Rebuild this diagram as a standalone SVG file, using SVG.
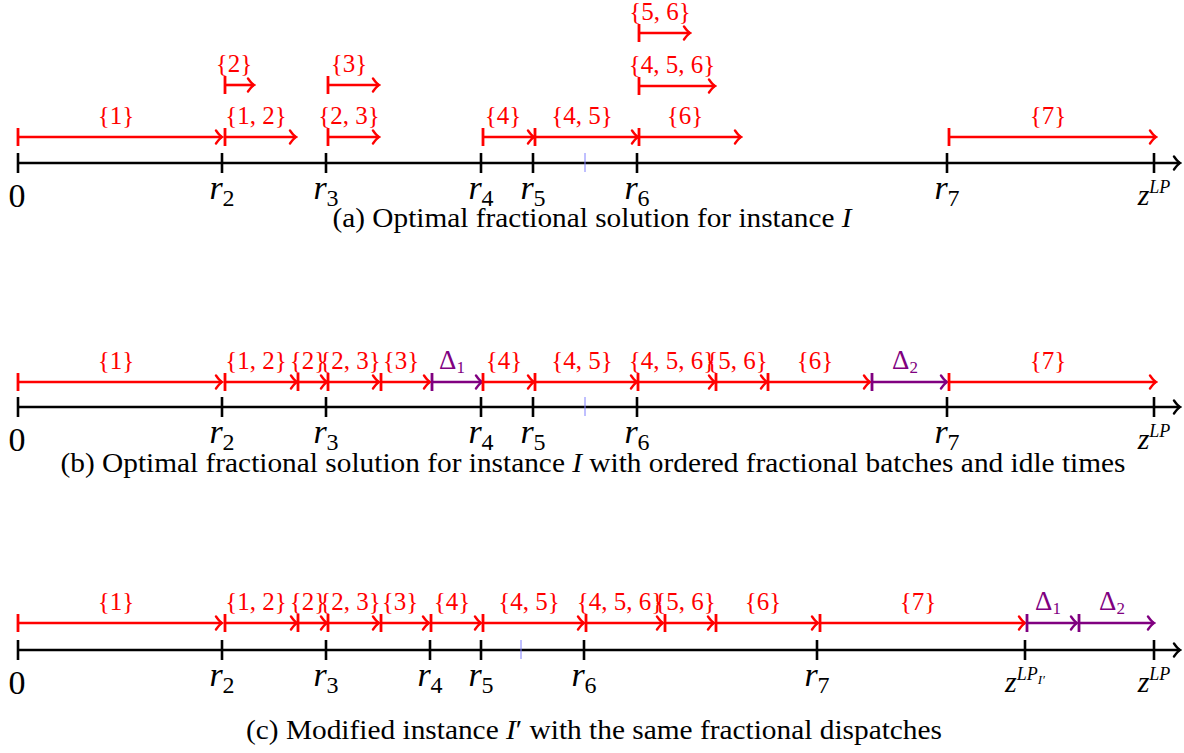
<svg xmlns="http://www.w3.org/2000/svg" width="1184" height="753" viewBox="0 0 1184 753">
<style>
text{font-family:"Liberation Serif","Times New Roman",serif;}
.r{stroke:#ff0000;stroke-width:2.6;fill:none;marker-start:url(#barR);marker-end:url(#arrR);}
.p{stroke:#800080;stroke-width:2.6;fill:none;marker-start:url(#barP);marker-end:url(#arrP);}
.ax{stroke:#000;stroke-width:2.6;fill:none;marker-end:url(#arrK);}
.tk{stroke:#000;stroke-width:2.6;}
.bt{stroke:#8080ff;stroke-width:1;}
.lr{fill:#ff0000;font-size:25px;text-anchor:middle;}
.lp{fill:#800080;font-size:27px;text-anchor:middle;}
.al{fill:#000;font-size:34px;text-anchor:middle;}
.zl{fill:#000;font-size:30px;text-anchor:middle;}
.it{font-style:italic;}
.cap{fill:#000;font-size:28px;text-anchor:middle;}
</style>
<defs>
<marker id="arrR" viewBox="-8 -8 10 16" markerWidth="10" markerHeight="16" refX="0" refY="0" orient="auto" markerUnits="userSpaceOnUse"><path d="M-6,-6.5 Q-2.5,-1.5 0,0 Q-2.5,1.5 -6,6.5" fill="none" stroke="#ff0000" stroke-width="2.4" stroke-linecap="round"/></marker>
<marker id="arrP" viewBox="-8 -8 10 16" markerWidth="10" markerHeight="16" refX="0" refY="0" orient="auto" markerUnits="userSpaceOnUse"><path d="M-6,-6.5 Q-2.5,-1.5 0,0 Q-2.5,1.5 -6,6.5" fill="none" stroke="#800080" stroke-width="2.4" stroke-linecap="round"/></marker>
<marker id="arrK" viewBox="-8 -8 10 16" markerWidth="10" markerHeight="16" refX="0" refY="0" orient="auto" markerUnits="userSpaceOnUse"><path d="M-6,-6.5 Q-2.5,-1.5 0,0 Q-2.5,1.5 -6,6.5" fill="none" stroke="#000" stroke-width="2.4" stroke-linecap="round"/></marker>
<marker id="barR" viewBox="-3 -10 6 20" markerWidth="6" markerHeight="20" refX="0" refY="0" orient="auto" markerUnits="userSpaceOnUse"><line x1="0" y1="-9" x2="0" y2="9" stroke="#ff0000" stroke-width="2.8"/></marker>
<marker id="barP" viewBox="-3 -10 6 20" markerWidth="6" markerHeight="20" refX="0" refY="0" orient="auto" markerUnits="userSpaceOnUse"><line x1="0" y1="-9" x2="0" y2="9" stroke="#800080" stroke-width="2.8"/></marker>
</defs>

<!-- Panel (a) -->
<g id="panel-a">
  <g id="a-axis">
    <line class="ax" x1="18" y1="163" x2="1180" y2="163"/>
    <line class="tk" x1="18" y1="153" x2="18" y2="173"/>
    <line class="tk" x1="222" y1="153" x2="222" y2="173"/>
    <line class="tk" x1="326" y1="153" x2="326" y2="173"/>
    <line class="tk" x1="481" y1="153" x2="481" y2="173"/>
    <line class="tk" x1="533" y1="153" x2="533" y2="173"/>
    <line class="bt" x1="585" y1="153" x2="585" y2="172"/>
    <line class="tk" x1="637" y1="153" x2="637" y2="173"/>
    <line class="tk" x1="947" y1="153" x2="947" y2="173"/>
    <line class="tk" x1="1154" y1="153" x2="1154" y2="173"/>
    <text class="al" x="17" y="207">0</text>
    <text class="al" x="222" y="199"><tspan class="it">r</tspan><tspan font-size="24" dy="7">2</tspan></text>
    <text class="al" x="326" y="199"><tspan class="it">r</tspan><tspan font-size="24" dy="7">3</tspan></text>
    <text class="al" x="481" y="199"><tspan class="it">r</tspan><tspan font-size="24" dy="7">4</tspan></text>
    <text class="al" x="533" y="199"><tspan class="it">r</tspan><tspan font-size="24" dy="7">5</tspan></text>
    <text class="al" x="637" y="199"><tspan class="it">r</tspan><tspan font-size="24" dy="7">6</tspan></text>
    <text class="al" x="947" y="199"><tspan class="it">r</tspan><tspan font-size="24" dy="7">7</tspan></text>
    <text class="zl" x="1154" y="205"><tspan class="it">z</tspan><tspan class="it" font-size="18" dy="-12">LP</tspan></text>
  </g>
  <g id="a-intervals">
    <g id="a-1"><line class="r" x1="18" y1="137" x2="222" y2="137"/><text class="lr" x="116" y="124">{1}</text></g>
    <g id="a-12"><line class="r" x1="225" y1="137" x2="296" y2="137"/><text class="lr" x="256" y="124">{1, 2}</text></g>
    <g id="a-2"><line class="r" x1="225" y1="85" x2="254" y2="85"/><text class="lr" x="234" y="72">{2}</text></g>
    <g id="a-23"><line class="r" x1="328" y1="137" x2="379" y2="137"/><text class="lr" x="349" y="124">{2, 3}</text></g>
    <g id="a-3"><line class="r" x1="328" y1="85" x2="379" y2="85"/><text class="lr" x="349" y="72">{3}</text></g>
    <g id="a-4"><line class="r" x1="483" y1="137" x2="534" y2="137"/><text class="lr" x="503" y="124">{4}</text></g>
    <g id="a-45"><line class="r" x1="535" y1="137" x2="638" y2="137"/><text class="lr" x="582" y="124">{4, 5}</text></g>
    <g id="a-6"><line class="r" x1="639" y1="137" x2="741" y2="137"/><text class="lr" x="685" y="124">{6}</text></g>
    <g id="a-456"><line class="r" x1="639" y1="86" x2="715" y2="86"/><text class="lr" x="672" y="73">{4, 5, 6}</text></g>
    <g id="a-56"><line class="r" x1="639" y1="33" x2="690" y2="33"/><text class="lr" x="660" y="20">{5, 6}</text></g>
    <g id="a-7"><line class="r" x1="949" y1="137" x2="1156" y2="137"/><text class="lr" x="1048" y="124">{7}</text></g>
  </g>
  <text class="cap" x="592" y="227" textLength="519" lengthAdjust="spacingAndGlyphs">(a) Optimal fractional solution for instance <tspan class="it">I</tspan></text>
</g>

<!-- Panel (b) -->
<g id="panel-b">
  <g id="b-axis">
    <line class="ax" x1="18" y1="407" x2="1180" y2="407"/>
    <line class="tk" x1="18" y1="397" x2="18" y2="417"/>
    <line class="tk" x1="222" y1="397" x2="222" y2="417"/>
    <line class="tk" x1="326" y1="397" x2="326" y2="417"/>
    <line class="tk" x1="481" y1="397" x2="481" y2="417"/>
    <line class="tk" x1="533" y1="397" x2="533" y2="417"/>
    <line class="bt" x1="585" y1="397" x2="585" y2="416"/>
    <line class="tk" x1="637" y1="397" x2="637" y2="417"/>
    <line class="tk" x1="947" y1="397" x2="947" y2="417"/>
    <line class="tk" x1="1154" y1="397" x2="1154" y2="417"/>
    <text class="al" x="17" y="451">0</text>
    <text class="al" x="222" y="443"><tspan class="it">r</tspan><tspan font-size="24" dy="7">2</tspan></text>
    <text class="al" x="326" y="443"><tspan class="it">r</tspan><tspan font-size="24" dy="7">3</tspan></text>
    <text class="al" x="481" y="443"><tspan class="it">r</tspan><tspan font-size="24" dy="7">4</tspan></text>
    <text class="al" x="533" y="443"><tspan class="it">r</tspan><tspan font-size="24" dy="7">5</tspan></text>
    <text class="al" x="637" y="443"><tspan class="it">r</tspan><tspan font-size="24" dy="7">6</tspan></text>
    <text class="al" x="947" y="443"><tspan class="it">r</tspan><tspan font-size="24" dy="7">7</tspan></text>
    <text class="zl" x="1154" y="449"><tspan class="it">z</tspan><tspan class="it" font-size="18" dy="-12">LP</tspan></text>
  </g>
  <g id="b-intervals">
    <g id="b-1"><line class="r" x1="18" y1="382" x2="222" y2="382"/><text class="lr" x="116" y="369">{1}</text></g>
    <g id="b-12"><line class="r" x1="225" y1="382" x2="297" y2="382"/><text class="lr" x="256" y="369">{1, 2}</text></g>
    <g id="b-2"><line class="r" x1="298" y1="382" x2="327" y2="382"/><text class="lr" x="308" y="369">{2}</text></g>
    <g id="b-23"><line class="r" x1="328" y1="382" x2="379" y2="382"/><text class="lr" x="350" y="369">{2, 3}</text></g>
    <g id="b-3"><line class="r" x1="381" y1="382" x2="430" y2="382"/><text class="lr" x="401" y="369">{3}</text></g>
    <g id="b-d1"><line class="p" x1="432" y1="382" x2="482" y2="382"/><text class="lp" x="452" y="369">Δ<tspan font-size="17" dy="4">1</tspan></text></g>
    <g id="b-4"><line class="r" x1="483" y1="382" x2="534" y2="382"/><text class="lr" x="504" y="369">{4}</text></g>
    <g id="b-45"><line class="r" x1="535" y1="382" x2="637" y2="382"/><text class="lr" x="582" y="369">{4, 5}</text></g>
    <g id="b-456"><line class="r" x1="638" y1="382" x2="715" y2="382"/><text class="lr" x="672" y="369">{4, 5, 6}</text></g>
    <g id="b-56"><line class="r" x1="716" y1="382" x2="767" y2="382"/><text class="lr" x="737" y="369">{5, 6}</text></g>
    <g id="b-6"><line class="r" x1="768" y1="382" x2="870" y2="382"/><text class="lr" x="815" y="369">{6}</text></g>
    <g id="b-d2"><line class="p" x1="872" y1="382" x2="947" y2="382"/><text class="lp" x="905" y="369">Δ<tspan font-size="17" dy="4">2</tspan></text></g>
    <g id="b-7"><line class="r" x1="949" y1="382" x2="1156" y2="382"/><text class="lr" x="1048" y="369">{7}</text></g>
  </g>
  <text class="cap" x="593" y="472" textLength="1065" lengthAdjust="spacingAndGlyphs">(b) Optimal fractional solution for instance <tspan class="it">I</tspan> with ordered fractional batches and idle times</text>
</g>

<!-- Panel (c) -->
<g id="panel-c">
  <g id="c-axis">
    <line class="ax" x1="18" y1="650" x2="1180" y2="650"/>
    <line class="tk" x1="18" y1="640" x2="18" y2="660"/>
    <line class="tk" x1="222" y1="640" x2="222" y2="660"/>
    <line class="tk" x1="326" y1="640" x2="326" y2="660"/>
    <line class="tk" x1="430" y1="640" x2="430" y2="660"/>
    <line class="tk" x1="481" y1="640" x2="481" y2="660"/>
    <line class="bt" x1="521" y1="640" x2="521" y2="659"/>
    <line class="tk" x1="584" y1="640" x2="584" y2="660"/>
    <line class="tk" x1="817" y1="640" x2="817" y2="660"/>
    <line class="tk" x1="1025" y1="640" x2="1025" y2="660"/>
    <line class="tk" x1="1154" y1="640" x2="1154" y2="660"/>
    <text class="al" x="17" y="694">0</text>
    <text class="al" x="222" y="686"><tspan class="it">r</tspan><tspan font-size="24" dy="7">2</tspan></text>
    <text class="al" x="326" y="686"><tspan class="it">r</tspan><tspan font-size="24" dy="7">3</tspan></text>
    <text class="al" x="430" y="686"><tspan class="it">r</tspan><tspan font-size="24" dy="7">4</tspan></text>
    <text class="al" x="481" y="686"><tspan class="it">r</tspan><tspan font-size="24" dy="7">5</tspan></text>
    <text class="al" x="584" y="686"><tspan class="it">r</tspan><tspan font-size="24" dy="7">6</tspan></text>
    <text class="al" x="817" y="686"><tspan class="it">r</tspan><tspan font-size="24" dy="7">7</tspan></text>
    <text class="zl" x="1025" y="692"><tspan class="it">z</tspan><tspan class="it" font-size="18" dy="-12">LP</tspan><tspan class="it" font-size="13" dy="4">I′</tspan></text>
    <text class="zl" x="1154" y="692"><tspan class="it">z</tspan><tspan class="it" font-size="18" dy="-12">LP</tspan></text>
  </g>
  <g id="c-intervals">
    <g id="c-1"><line class="r" x1="18" y1="623" x2="222" y2="623"/><text class="lr" x="116" y="610">{1}</text></g>
    <g id="c-12"><line class="r" x1="225" y1="623" x2="297" y2="623"/><text class="lr" x="256" y="610">{1, 2}</text></g>
    <g id="c-2"><line class="r" x1="298" y1="623" x2="327" y2="623"/><text class="lr" x="308" y="610">{2}</text></g>
    <g id="c-23"><line class="r" x1="328" y1="623" x2="379" y2="623"/><text class="lr" x="350" y="610">{2, 3}</text></g>
    <g id="c-3"><line class="r" x1="381" y1="623" x2="429" y2="623"/><text class="lr" x="400" y="610">{3}</text></g>
    <g id="c-4"><line class="r" x1="431" y1="623" x2="481" y2="623"/><text class="lr" x="452" y="610">{4}</text></g>
    <g id="c-45"><line class="r" x1="483" y1="623" x2="584" y2="623"/><text class="lr" x="529" y="610">{4, 5}</text></g>
    <g id="c-456"><line class="r" x1="586" y1="623" x2="663" y2="623"/><text class="lr" x="620" y="610">{4, 5, 6}</text></g>
    <g id="c-56"><line class="r" x1="665" y1="623" x2="714" y2="623"/><text class="lr" x="685" y="610">{5, 6}</text></g>
    <g id="c-6"><line class="r" x1="716" y1="623" x2="818" y2="623"/><text class="lr" x="763" y="610">{6}</text></g>
    <g id="c-7"><line class="r" x1="820" y1="623" x2="1025" y2="623"/><text class="lr" x="918" y="610">{7}</text></g>
    <g id="c-d1"><line class="p" x1="1027" y1="623" x2="1077" y2="623"/><text class="lp" x="1048" y="610">Δ<tspan font-size="17" dy="4">1</tspan></text></g>
    <g id="c-d2"><line class="p" x1="1079" y1="623" x2="1154" y2="623"/><text class="lp" x="1112" y="610">Δ<tspan font-size="17" dy="4">2</tspan></text></g>
  </g>
  <text class="cap" x="594" y="739" textLength="696" lengthAdjust="spacingAndGlyphs">(c) Modified instance <tspan class="it">I</tspan>′ with the same fractional dispatches</text>
</g>
</svg>
